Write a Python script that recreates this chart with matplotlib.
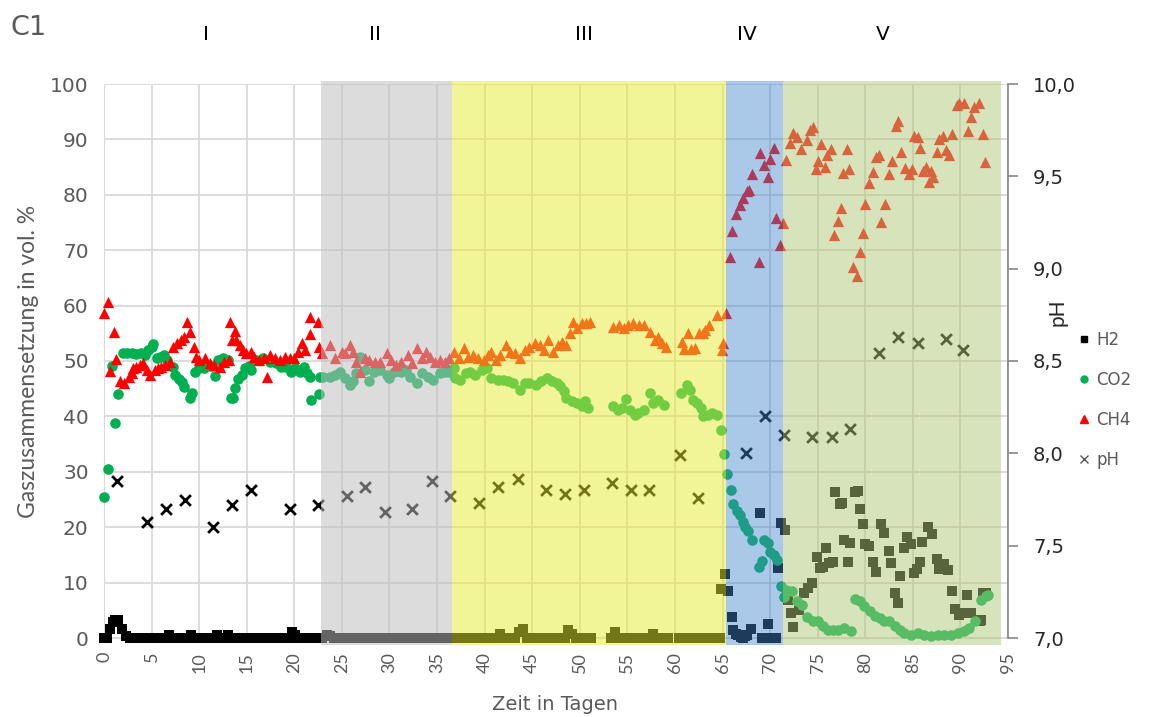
import matplotlib
matplotlib.use("Agg")
import matplotlib.pyplot as plt
from matplotlib.patches import Rectangle
from matplotlib.lines import Line2D
from matplotlib.ticker import FuncFormatter
from matplotlib.transforms import blended_transform_factory

plt.rcParams['font.family'] = ['DejaVu Sans']
SCHRIFT_V = ['Lato', 'DejaVu Sans']   # for vertically set text

# --- Gaszusammensetzung (vol. %) ---------------------------------------
h2_tag = [0.0, 0.3, 0.6, 0.9, 1.2, 1.5, 1.9, 2.3, 2.7, 3.1, 3.5, 3.9, 4.3, 4.7,
          5.1, 5.5, 5.9, 6.3, 6.8, 7.2, 7.6, 8.0, 8.4, 8.8, 9.1, 9.5, 9.9, 10.3,
          10.7, 11.1, 11.5, 11.9, 12.3, 12.7, 13.0, 13.4, 13.8, 14.2, 14.6, 15.0,
          15.4, 15.8, 16.2, 16.6, 17.0, 17.4, 17.8, 18.2, 18.6, 19.0, 19.4, 19.8,
          20.1, 20.5, 20.9, 21.3, 21.7, 22.1, 22.5,
          22.9, 23.4, 23.8, 24.2, 24.6, 25.0, 25.4, 25.8, 26.2, 26.6, 27.0, 27.4,
          27.8, 28.2, 28.6, 29.0, 29.4, 29.8, 30.2, 30.6, 31.0, 31.4, 31.8, 32.2,
          32.6, 33.0, 33.4, 33.8, 34.2, 34.6, 35.0, 35.4, 35.8, 36.2,
          36.6, 37.0, 37.4, 37.8, 38.2, 38.6, 39.0, 39.4, 39.8, 40.2, 40.6, 41.0,
          41.6, 42.0, 42.4, 42.8, 43.2, 43.6, 44.0, 44.4, 44.8, 45.2, 45.6, 46.0,
          46.4, 46.8, 47.2, 47.6, 48.0, 48.4, 48.8, 49.2, 49.6, 50.0, 50.4, 50.8,
          51.2, 53.3, 53.7, 54.1, 54.5, 54.9, 55.3, 55.7, 56.1, 56.5, 56.9, 57.3,
          57.7, 58.1, 58.5, 58.9, 59.3, 60.4, 60.8, 61.2, 61.6, 62.0, 62.4, 62.8,
          63.2, 63.6, 64.0, 64.4, 64.7, 64.8, 65.3, 65.6,
          66.0, 66.1, 66.4, 66.6, 66.9, 67.1, 67.4, 67.6, 68.0, 68.9, 69.1, 69.4,
          69.8, 70.1, 70.4, 70.6, 70.8, 71.1, 71.6,
          71.9, 72.2, 72.4, 73.0, 73.6, 74.0, 74.4, 74.9, 75.2, 75.6, 75.9, 76.2,
          76.6, 76.8, 77.3, 77.6, 77.8, 78.2, 78.4, 78.9, 79.2, 79.4, 79.8, 80.0,
          80.4, 80.8, 81.1, 81.7, 82.0, 82.5, 82.7, 83.1, 83.4, 83.7, 84.1, 84.4,
          84.8, 85.1, 85.4, 85.8, 86.0, 86.6, 87.0, 87.5, 87.8, 88.3, 88.7, 89.1,
          89.4, 89.9, 90.4, 90.7, 91.1, 92.1, 92.2, 92.4, 92.7]
h2_vol = [0.0, 0.0, 1.7, 2.8, 3.2, 3.2, 1.7, 0.3, 0, 0, 0, 0, 0, 0,
          0, 0, 0, 0, 0.5, 0, 0, 0, 0, 0, 0.5, 0, 0, 0,
          0, 0, 0, 0.5, 0, 0, 0.6, 0, 0, 0, 0, 0,
          0, 0, 0, 0, 0, 0, 0, 0, 0, 0, 0, 1.1,
          0.5, 0, 0, 0, 0, 0, 0,
          0, 0.5, 0.3, 0, 0, 0, 0, 0, 0, 0, 0, 0,
          0, 0, 0, 0, 0, 0, 0, 0, 0, 0, 0, 0,
          0, 0, 0, 0, 0, 0, 0, 0, 0, 0,
          0, 0, 0, 0, 0, 0, 0, 0, 0, 0, 0, 0,
          0.8, 0, 0, 0, 0, 1.0, 1.7, 0, 0, 0, 0, 0,
          0, 0, 0, 0, 0, 0, 1.4, 0.8, 0, 0, 0, 0,
          0, 0, 1.1, 0, 0, 0, 0, 0, 0, 0, 0, 0,
          0.8, 0, 0, 0, 0, 0, 0, 0, 0, 0, 0, 0,
          0, 0, 0, 0, 0, 8.9, 11.5, 8.4,
          3.8, 1.4, 0.8, 0.6, 0.2, 0.0, 0.3, 0.6, 1.6, 22.5, 0.0, 0.0,
          2.5, 0.0, 0.0, 0.0, 12.6, 20.8, 19.5,
          6.9, 4.5, 2.0, 5.1, 8.1, 9.0, 9.9, 14.7, 12.6, 12.9, 16.2, 13.5,
          13.8, 26.3, 24.2, 24.4, 17.6, 13.7, 17.1, 26.4, 26.5, 23.3, 20.6, 17.0,
          16.6, 13.7, 11.9, 20.6, 19.0, 15.7, 13.6, 8.1, 6.4, 11.2, 16.3, 18.2,
          17.0, 11.8, 12.4, 13.8, 17.4, 20.0, 18.7, 14.2, 12.4, 13.3, 12.3, 8.5,
          5.3, 4.1, 4.5, 7.7, 4.5, 3.0, 3.3, 8.1, 8.1]

co2_tag = [0.0, 0.4, 0.8, 1.16, 1.5, 2.0, 2.4, 2.9, 3.4, 3.9, 4.3, 4.6, 5.0, 5.2,
           5.6, 5.9, 6.3, 6.6, 7.3, 7.5, 7.9, 8.2, 8.4, 9.0, 9.2, 9.6, 10.0,
           10.5, 11.2, 11.65, 12.0, 12.5, 13.0, 13.3, 13.6, 13.8, 14.1, 14.5,
           14.8, 15.2, 15.5, 16.0, 16.7, 17.4, 18.1, 18.6, 19.1, 19.6, 20.1,
           20.6, 21.0, 21.3, 21.6, 21.8, 22.6, 22.7,
           23.05, 23.75, 24.3, 24.8, 25.3, 25.85, 26.2, 26.5, 26.9, 27.4, 27.9,
           28.4, 29.0, 29.7, 30.0, 30.5, 31.2, 31.7, 32.2, 32.9, 33.4, 34.0,
           34.6, 35.3, 35.8, 36.3,
           36.8, 36.9, 37.4, 38.0, 38.5, 39.0, 39.7, 40.2, 40.7, 41.4, 41.9,
           42.5, 43.0, 43.7, 44.2, 44.7, 45.4, 45.9, 46.6, 47.1, 47.6, 47.9,
           48.3, 48.6, 49.2, 49.7, 50.2, 50.5, 50.9,
           53.5, 54.0, 54.4, 54.9, 55.3, 55.8, 56.1, 56.7, 57.4, 57.7, 58.2, 58.8,
           60.6, 61.3, 61.6, 61.9, 62.3, 62.7, 63.0, 63.5, 63.9, 64.4, 64.8,
           65.2, 65.5, 65.85, 66.1, 66.5, 66.8, 67.1, 67.4, 67.7, 68.1, 68.8,
           69.1, 69.4, 69.8, 70.0, 70.4, 70.7, 71.1, 71.5,
           71.7, 72.3, 72.8, 73.3, 73.9, 74.5, 75.0, 75.6, 76.1, 76.6, 77.1,
           77.8, 78.5, 78.9, 79.4, 79.9, 80.5, 81.0, 81.5, 82.0, 82.5, 83.1,
           83.6, 84.1, 84.8, 85.5, 86.2, 86.9, 87.6, 88.3, 89.0, 89.7, 90.4,
           90.9, 91.5, 92.2, 92.7, 92.9]
co2_vol = [25.5, 30.5, 49.1, 38.8, 44.0, 51.4, 51.5, 51.5, 51.2, 51.4, 51.1, 52.0,
           52.5, 53.1, 50.5, 50.8, 51.1, 50.2, 49.0, 47.4, 46.8, 46.2, 45.3,
           43.4, 44.3, 48.0, 48.8, 48.8, 49.1, 47.3, 50.2, 50.5, 50.2, 43.3,
           43.3, 45.2, 46.8, 47.4, 48.8, 49.1, 48.4, 50.2, 50.5, 49.9, 49.6,
           49.0, 49.0, 48.1, 48.7, 48.1, 49.0, 47.8, 47.1, 43.0, 44.0, 47.1,
           47.2, 47.2, 47.5, 48.1, 46.9, 45.7, 46.3, 47.8, 50.8, 48.4, 46.3,
           48.1, 48.4, 47.5, 46.9, 48.1, 48.1, 48.4, 47.2, 46.0, 47.8, 47.2,
           46.6, 47.8, 48.1, 48.1,
           48.7, 46.9, 46.6, 47.8, 48.1, 47.5, 48.4, 48.7, 46.9, 46.6, 46.6,
           46.3, 46.0, 44.8, 46.0, 46.0, 45.7, 46.3, 46.9, 46.3, 46.0, 45.4,
           44.5, 43.3, 42.7, 42.4, 41.8, 42.7, 41.5,
           41.9, 41.2, 41.5, 43.1, 41.2, 40.3, 40.6, 41.2, 44.3, 42.4, 43.0, 42.1,
           44.2, 45.7, 44.8, 43.0, 42.4, 41.5, 40.0, 40.3, 40.7, 40.3, 37.5,
           33.2, 29.6, 26.7, 24.2, 23.0, 22.2, 20.9, 20.0, 19.3, 17.6, 12.8,
           13.9, 17.6, 17.2, 15.5, 14.9, 14.0, 9.4, 7.4,
           8.7, 8.4, 6.6, 6.0, 3.8, 3.0, 3.0, 2.1, 1.5, 1.5, 1.5,
           1.8, 1.2, 7.0, 6.6, 5.7, 4.8, 4.0, 3.6, 3.0, 3.0, 2.1,
           1.5, 0.9, 0.6, 0.9, 0.6, 0.3, 0.6, 0.6, 0.6, 0.9, 1.2,
           1.8, 3.1, 6.9, 7.5, 7.8]

ch4_tag = [0.0, 0.45, 0.6, 1.05, 1.3, 1.7, 2.1, 2.6, 2.9, 3.1, 3.4, 3.8, 4.1,
           4.5, 4.8, 5.4, 5.7, 6.0, 6.4, 6.9, 7.3, 7.7, 8.05, 8.4, 8.75, 9.0,
           9.46, 9.7, 10.0, 10.6, 11.1, 11.6, 12.2, 12.6, 13.1, 13.2, 13.5,
           13.8, 13.9, 14.3, 14.6, 14.95, 15.5, 15.8, 16.3, 16.8, 17.1, 17.4,
           18.0, 18.5, 19.0, 19.5, 20.0, 20.4, 20.8, 21.1, 21.6, 21.7, 22.5,
           22.6,
           22.9, 23.75, 24.3, 25.0, 25.35, 25.9, 26.2, 26.5, 26.9, 27.4, 27.9,
           28.5, 29.0, 29.7, 30.2, 30.7, 31.2, 31.9, 32.4, 32.9, 33.4, 33.8,
           34.3, 34.8, 35.3, 35.8, 36.3,
           36.8, 37.3, 37.8, 38.3, 38.8, 39.3, 39.9, 40.4, 40.7, 41.2, 41.6,
           42.2, 42.7, 43.2, 43.7, 44.2, 44.7, 45.3, 45.8, 46.2, 46.7, 47.2,
           47.7, 48.1, 48.6, 49.0, 49.25, 49.7, 50.2, 50.7, 51.05,
           53.5, 54.1, 54.6, 55.1, 55.6, 56.2, 56.7, 57.4, 57.9, 58.2, 58.6, 59.1,
           60.7, 61.0, 61.4, 61.7, 62.1, 62.5, 62.9, 63.2, 63.6, 64.4, 64.9,
           65.0, 65.4,
           65.8, 66.0, 66.4, 66.8, 67.15, 67.6, 67.8, 68.06, 68.8, 68.9, 69.4,
           69.8, 70.0, 70.4, 70.6, 71.0, 71.4,
           71.7, 72.1, 72.4, 72.8, 73.2, 73.9, 74.2, 74.5, 74.8, 75.0, 75.4,
           75.8, 76.0, 76.4, 76.7, 77.1, 77.5, 77.7, 78.1, 78.3, 78.7, 79.1,
           79.4, 79.8, 80.0, 80.4, 80.8, 81.1, 81.4, 81.7, 82.1, 82.5, 82.8,
           83.2, 83.4, 83.8, 84.2, 84.6, 84.9, 85.1, 85.5, 85.8, 86.1, 86.4,
           86.7, 86.9, 87.1, 87.5, 87.8, 88.2, 88.5, 88.8, 89.1, 89.6, 89.9,
           90.4, 90.8, 91.1, 91.4, 92.0, 92.4, 92.6]
ch4_vol = [58.7, 60.7, 48.2, 55.3, 50.4, 46.3, 46.0, 47.1, 47.8, 48.7, 49.0, 49.3,
           49.6, 48.4, 47.5, 48.4, 48.7, 49.0, 49.3, 49.9, 52.6, 53.2, 53.8,
           54.4, 57.1, 55.3, 52.6, 50.8, 50.2, 50.5, 49.6, 49.3, 49.0, 49.9,
           50.2, 57.1, 53.8, 55.5, 53.8, 52.9, 52.0, 51.4, 51.7, 50.8, 50.2,
           50.5, 47.2, 51.1, 50.5, 50.2, 50.8, 50.5, 50.5, 51.7, 53.3, 52.0,
           54.9, 58.0, 57.1, 52.6,
           51.4, 52.9, 50.5, 51.7, 51.4, 52.9, 51.7, 49.9, 48.1, 50.5, 50.2,
           49.9, 49.9, 51.4, 50.2, 49.3, 49.9, 51.1, 49.6, 52.3, 50.5, 51.7,
           50.8, 49.9, 50.2, 49.9, 50.5,
           51.7, 50.5, 52.3, 50.8, 51.1, 50.5, 50.2, 51.1, 51.7, 50.2, 51.1,
           52.9, 51.7, 51.4, 50.5, 52.0, 52.6, 53.2, 52.9, 52.0, 53.8, 51.7,
           52.9, 53.5, 52.9, 55.0, 57.1, 55.9, 56.8, 56.8, 57.1,
           56.2, 56.5, 55.9, 56.5, 56.8, 56.5, 56.5, 55.3, 53.8, 54.4, 53.2, 52.5,
           53.5, 52.2, 55.0, 52.2, 52.3, 55.0, 55.0, 55.6, 56.5, 58.3, 52.0,
           53.2, 58.6,
           68.8, 73.5, 76.5, 78.2, 79.4, 80.6, 80.9, 83.8, 67.8, 87.5, 85.3,
           83.3, 86.4, 88.4, 75.8, 70.9, 75.0,
           86.3, 89.3, 91.2, 90.4, 88.3, 89.9, 91.7, 92.3, 84.6, 86.1, 89.1,
           85.1, 87.2, 88.3, 72.7, 75.3, 77.7, 84.0, 88.3, 84.6, 67.0, 65.4,
           69.6, 73.1, 78.3, 82.1, 84.1, 86.9, 87.2, 75.1, 78.3, 83.8, 86.1,
           92.4, 93.4, 87.7, 84.8, 83.8, 84.6, 90.7, 90.4, 88.4, 84.3, 85.1,
           82.4, 84.3, 83.3, 87.8, 90.0, 90.7, 88.0, 87.2, 91.0, 96.2, 96.5,
           96.6, 91.5, 94.1, 95.9, 96.5, 91.0, 85.9]

# --- pH ------------------------------------------------------------------
ph_tag = [1.4, 4.5, 6.5, 8.5, 11.5, 13.4, 15.5, 19.5, 22.5, 25.5, 27.4, 29.5,
          32.4, 34.5, 36.4, 39.4, 41.4, 43.5, 46.4, 48.4, 50.4, 53.4, 55.4,
          57.3, 60.5, 62.4, 67.5, 69.5, 71.5, 74.4, 76.5, 78.4, 81.4, 83.4,
          85.5, 88.5, 90.3]
ph_wert = [7.85, 7.63, 7.70, 7.75, 7.60, 7.72, 7.80, 7.70, 7.72, 7.77, 7.82,
           7.68, 7.70, 7.85, 7.77, 7.73, 7.82, 7.86, 7.80, 7.78, 7.80, 7.84,
           7.80, 7.80, 7.99, 7.76, 8.00, 8.20, 8.10, 8.09, 8.09, 8.13, 8.545,
           8.63, 8.60, 8.62, 8.56]

# --- Betriebsphasen ------------------------------------------------------
phasen = ['I', 'II', 'III', 'IV', 'V']
phasen_grenzen = [0.0, 22.8, 36.6, 65.4, 71.4, 94.3]
phasen_farben = [None, '#BEBEBE', '#E6EB32', '#4385CC', '#B1C878']
phasen_alpha = [0, 0.53, 0.5, 0.45, 0.5]
phasen_label_x = [10.7, 28.5, 50.4, 67.6, 81.8]

GRAU = '#595959'
GRID = '#D9D9D9'

fig = plt.figure(figsize=(11.66, 7.17), dpi=100)
ax = fig.add_axes([104 / 1166, 1 - 638 / 717, 904 / 1166, 554 / 717])
ax2 = ax.twinx()

ax.scatter(h2_tag, h2_vol, marker='s', s=44, color='black', linewidths=0,
           clip_on=False, zorder=3)
ax.scatter(co2_tag, co2_vol, marker='o', s=58, color='#00B050', linewidths=0,
           clip_on=False, zorder=3)
ax.scatter(ch4_tag, ch4_vol, marker='^', s=66, color='#FF0000', linewidths=0,
           clip_on=False, zorder=3)
ax2.scatter(ph_tag, ph_wert, marker='x', s=60, color='black', linewidths=2,
            clip_on=False, zorder=3)

ax.set_xlim(0, 95)
ax.set_ylim(0, 100)
ax2.set_ylim(7.0, 10.0)

ax.set_xticks(range(0, 96, 5))
ax.set_yticks(range(0, 101, 10))
ax2.set_yticks([7.0, 7.5, 8.0, 8.5, 9.0, 9.5, 10.0])
ax2.yaxis.set_major_formatter(FuncFormatter(lambda v, p: f"{v:.1f}".replace('.', ',')))

ax.grid(True, color=GRID, linewidth=1.3)
ax.set_axisbelow(True)
ax.spines['top'].set_visible(False)
ax2.spines['top'].set_visible(False)
ax.spines['left'].set_color(GRID)
ax.spines['bottom'].set_color(GRID)
ax.spines['right'].set_visible(False)
ax2.spines['left'].set_visible(False)
ax2.spines['bottom'].set_visible(False)
ax2.spines['right'].set_color('#868686')
ax2.spines['right'].set_linewidth(1.2)

ax.tick_params(axis='y', length=0, labelsize=14.5, labelcolor=GRAU, pad=11)
ax.tick_params(axis='x', length=0, labelrotation=90, labelcolor=GRAU, pad=10)
for lab in ax.get_xticklabels():
    lab.set_fontfamily(SCHRIFT_V)
    lab.set_fontsize(13)
ax2.tick_params(axis='y', length=7, width=1.2, color='#868686', labelsize=14,
                labelcolor='#262626', pad=11)

ax.set_ylabel('Gaszusammensetzung in vol. %', fontsize=16.5, color=GRAU,
              family=SCHRIFT_V)
ax.yaxis.set_label_coords(-0.072, 0.5)
ax2.set_ylabel('pH', fontsize=15, color='#262626', rotation=90, family=SCHRIFT_V)
ax2.yaxis.set_label_coords(1.044, 0.588)
fig.text(555 / 1166, 1 - 705 / 717, 'Zeit in Tagen', fontsize=14, color=GRAU,
         ha='center', va='center')

# farbige Phasenbereiche über den Messpunkten
tr = ax2.get_xaxis_transform()
for i in range(1, len(phasen)):
    x0, x1 = phasen_grenzen[i], phasen_grenzen[i + 1]
    ax2.add_patch(Rectangle((x0, -0.013), x1 - x0, 1.018, transform=tr,
                            facecolor=phasen_farben[i], alpha=phasen_alpha[i],
                            edgecolor='none', clip_on=False, zorder=5))

tr_kopf = blended_transform_factory(ax.transData, fig.transFigure)
for name, xp in zip(phasen, phasen_label_x):
    ax.text(xp, 1 - 35 / 717, name, transform=tr_kopf, fontsize=14.5,
            color='black', ha='center', va='center')

fig.text(11 / 1166, 1 - 28 / 717, 'C1', fontsize=19.5, color=GRAU,
         ha='left', va='center')

handles = [
    Line2D([], [], linestyle='none', marker='s', markersize=5, color='black'),
    Line2D([], [], linestyle='none', marker='o', markersize=5, color='#00B050'),
    Line2D([], [], linestyle='none', marker='^', markersize=6, color='#FF0000'),
    Line2D([], [], linestyle='none', marker='x', markersize=6, color=GRAU,
           markeredgewidth=1),
]
fig.legend(handles, ['H2', 'CO2', 'CH4', 'pH'], loc='upper left',
           bbox_to_anchor=(1079 / 1166, 1 - 331 / 717), frameon=False,
           fontsize=12, labelcolor=GRAU, handlelength=0.6, handletextpad=0.45,
           labelspacing=1.32, borderaxespad=0, borderpad=0)

fig.savefig('out.png', dpi=100)
